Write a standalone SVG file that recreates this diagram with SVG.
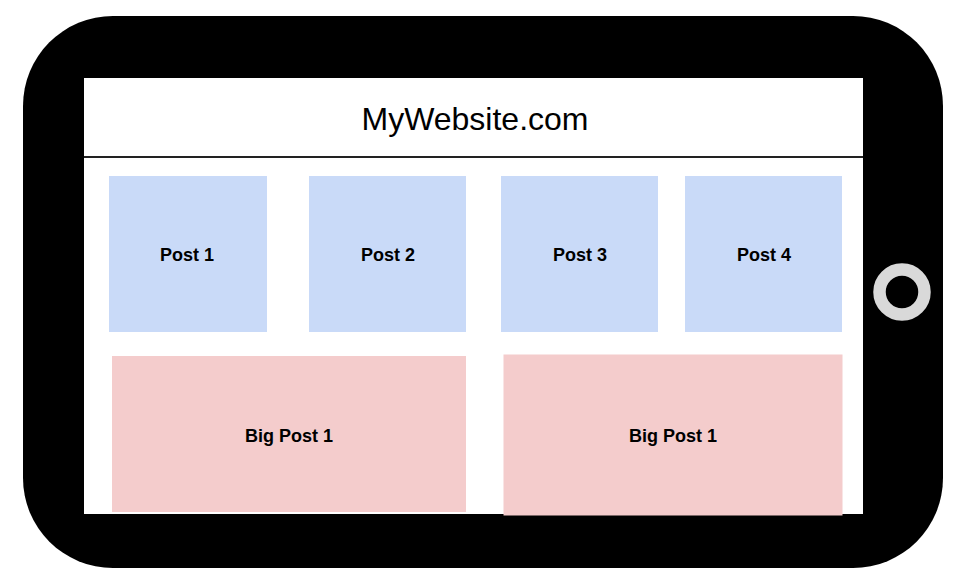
<svg xmlns="http://www.w3.org/2000/svg" width="973" height="588" viewBox="0 0 973 588">
<style>
.t{font-family:"Liberation Sans",Arial,sans-serif;fill:#000;text-anchor:middle}
.p{font-weight:bold;font-size:18px}
.post{fill:#c9daf8}
.big{fill:#f4cccc}
</style>
<rect width="973" height="588" fill="#fff"/>
<g id="device">
<rect x="23" y="16" width="920" height="552" rx="90" ry="90" fill="#000"/>
<rect x="84" y="78" width="779" height="436" fill="#fff"/>
<circle cx="902" cy="292" r="22.5" fill="none" stroke="#d9d9d9" stroke-width="12.5"/>
</g>
<g id="header">
<line x1="84" y1="157" x2="863" y2="157" stroke="#222" stroke-width="2"/>
<text class="t" x="475" y="130" font-size="32">MyWebsite.com</text>
</g>
<g id="post1"><rect class="post" x="109" y="176" width="158" height="156"/><text class="t p" x="187" y="261">Post 1</text></g>
<g id="post2"><rect class="post" x="309" y="176" width="157" height="156"/><text class="t p" x="388" y="261">Post 2</text></g>
<g id="post3"><rect class="post" x="501" y="176" width="157" height="156"/><text class="t p" x="580" y="261">Post 3</text></g>
<g id="post4"><rect class="post" x="685" y="176" width="157" height="156"/><text class="t p" x="764" y="261">Post 4</text></g>
<g id="bigpost1"><rect class="big" x="112" y="356" width="354" height="156"/><text class="t p" x="289" y="442">Big Post 1</text></g>
<g id="bigpost2"><rect class="big" x="503.5" y="354.5" width="339" height="161"/><text class="t p" x="673" y="442">Big Post 1</text></g>
<g id="connectors"></g>
</svg>
